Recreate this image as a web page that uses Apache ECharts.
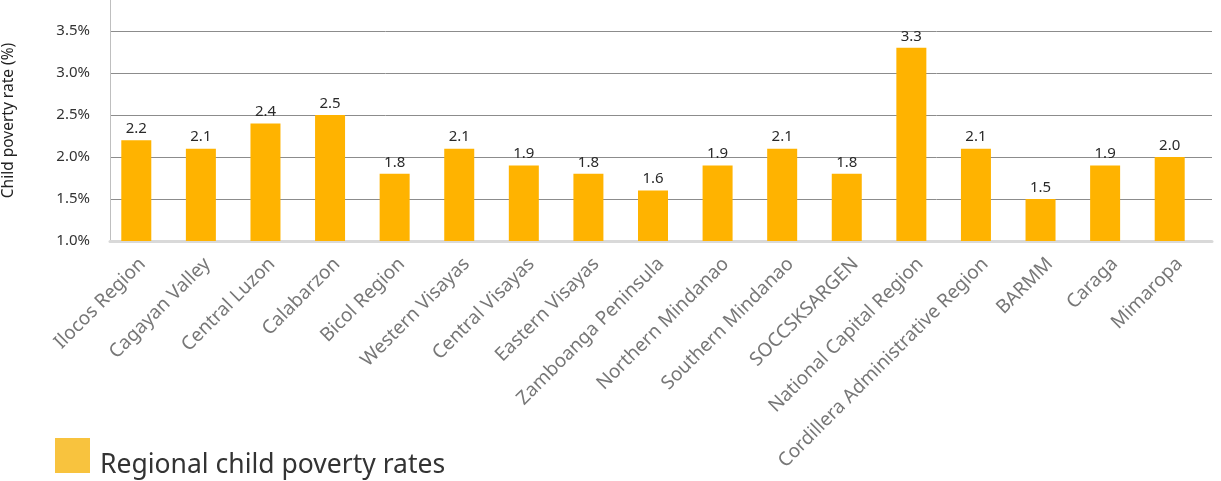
<!DOCTYPE html>
<html>
<head>
<meta charset="utf-8">
<script src="https://cdn.jsdelivr.net/npm/echarts@6/dist/echarts.min.js"></script>
<style>
  html, body { margin: 0; padding: 0; background: #fff; }
  #chart { width: 1221px; height: 481px; }
</style>
</head>
<body>
<div id="chart"></div>
<script>
// Regions of the Philippines
const regions = [
  'Ilocos Region', 'Cagayan Valley', 'Central Luzon', 'Calabarzon', 'Bicol Region',
  'Western Visayas', 'Central Visayas', 'Eastern Visayas', 'Zamboanga Peninsula',
  'Northern Mindanao', 'Southern Mindanao', 'SOCCSKSARGEN', 'National Capital Region',
  'Cordillera Administrative Region', 'BARMM', 'Caraga', 'Mimaropa'
];
// Child poverty rate per region (%)
const povertyRates = [2.2, 2.1, 2.4, 2.5, 1.8, 2.1, 1.9, 1.8, 1.6, 1.9, 2.1, 1.8, 3.3, 2.1, 1.5, 1.9, 2.0];
const seriesName = 'Regional child poverty rates';
const yAxisName = 'Child poverty rate (%)';

const FONT = '"Noto Sans", "Open Sans", sans-serif';
const Y_MIN = 1.0, Y_MAX = 3.87, Y_STEP = 0.5;

function pctLabel(v) {
  const r = Math.round(v * 10) / 10;
  if (Math.abs(v - r) > 1e-6 || Math.abs(r * 2 - Math.round(r * 2)) > 1e-6) return '';
  return r.toFixed(1) + '%';
}

const chart = echarts.init(document.getElementById('chart'), null, { renderer: 'canvas' });
chart.setOption({
  animation: false,
  textStyle: { fontFamily: FONT },
  // grid 0: axis frame, gridlines and category labels; grid 1: the bars
  grid: [
    { left: 110, right: 9, top: 0, bottom: 240, containLabel: false, outerBoundsMode: 'none' },
    { left: 104, right: 19, top: 0, bottom: 240, containLabel: false, outerBoundsMode: 'none' }
  ],
  legend: {
    left: 50,
    top: 433,
    itemWidth: 35,
    itemHeight: 35,
    icon: 'rect',
    data: [{ name: seriesName, itemStyle: { color: '#F8C33E' } }],
    formatter: function (name) { return '{t|' + name + '}'; },
    textStyle: {
      fontFamily: FONT,
      fontSize: 26.5,
      color: '#333',
      rich: { t: { fontFamily: FONT, fontSize: 26.5, color: '#333', padding: [20, 0, 0, 5] } }
    }
  },
  xAxis: [
    {
      gridIndex: 0,
      type: 'category',
      data: regions,
      axisLine: { show: true, lineStyle: { color: '#d9d9d9', width: 3 } },
      axisTick: { show: false },
      axisLabel: {
        rotate: 45,
        interval: 0,
        margin: 20,
        fontFamily: FONT,
        fontSize: 19,
        color: '#777'
      }
    },
    {
      gridIndex: 1,
      type: 'category',
      data: regions,
      axisLine: { show: false },
      axisTick: { show: false },
      axisLabel: { show: false }
    }
  ],
  yAxis: [
    {
      gridIndex: 0,
      type: 'value',
      min: Y_MIN,
      max: Y_MAX,
      interval: Y_STEP,
      name: yAxisName,
      nameLocation: 'middle',
      nameRotate: 90,
      nameGap: 93,
      nameTextStyle: { fontFamily: FONT, fontSize: 15.5, color: '#222' },
      axisLine: { show: true, lineStyle: { color: '#bfbfbf', width: 1 } },
      axisTick: { show: false },
      axisLabel: { fontFamily: FONT, fontSize: 15, color: '#333', margin: 20, formatter: pctLabel },
      splitLine: {
        show: true,
        showMinLine: false,
        showMaxLine: false,
        lineStyle: { color: '#8c8c8c', width: 1 }
      }
    },
    {
      gridIndex: 1,
      type: 'value',
      min: Y_MIN,
      max: Y_MAX,
      interval: Y_STEP,
      show: false,
      splitLine: { show: false }
    }
  ],
  series: [{
    name: seriesName,
    type: 'bar',
    xAxisIndex: 1,
    yAxisIndex: 1,
    data: povertyRates,
    barWidth: 30,
    itemStyle: { color: '#FFB300' },
    label: {
      show: true,
      position: 'top',
      distance: 4,
      fontFamily: FONT,
      fontSize: 15,
      color: '#2a2a2a',
      formatter: function (p) { return p.value.toFixed(1); }
    }
  }]
});
</script>
</body>
</html>
